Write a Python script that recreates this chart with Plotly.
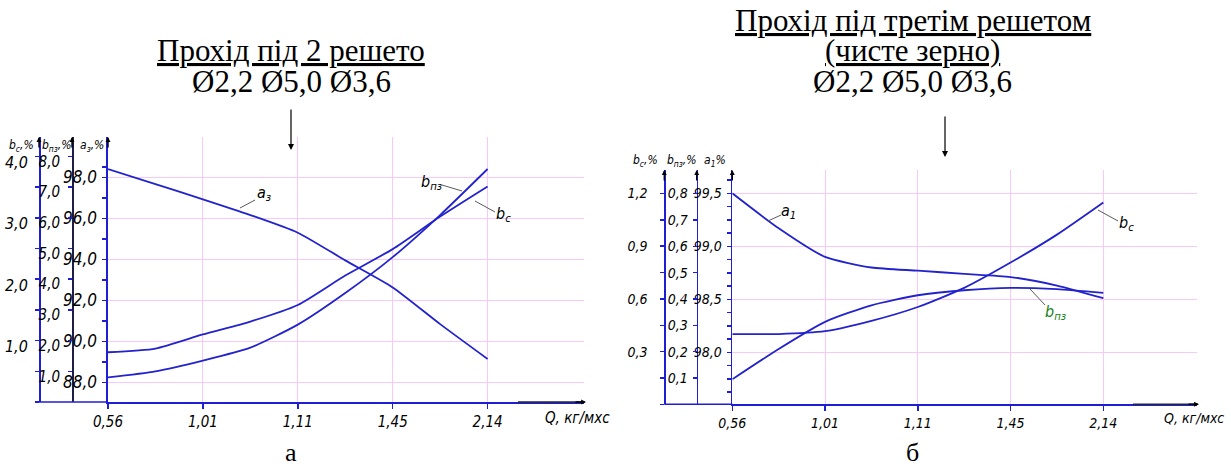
import plotly.graph_objects as go

W, H = 1231, 471

# ---------------- data ----------------
categories = ["0,56", "1,01", "1,11", "1,45", "2,14"]
cat_index = [0, 1, 2, 3, 4]
q_pos = [0, 0.5, 1, 1.5, 2, 2.5, 3, 3.5, 4]

# chart "а" (Прохід під 2 решето)
a3_left = [98.40, 97.67, 96.93, 96.16, 95.30, 93.95, 92.63, 90.84, 89.14]
bpz_left = [0.80, 1.00, 1.35, 1.77, 2.52, 3.55, 4.72, 6.09, 7.59]
bc_left = [0.81, 0.87, 1.10, 1.31, 1.58, 2.06, 2.49, 3.02, 3.51]

# chart "б" (Прохід під третім решетом)
a1_right = [99.50, 99.17, 98.90, 98.80, 98.77, 98.74, 98.71, 98.63, 98.51]
bpz_right = [0.095, 0.21, 0.313, 0.376, 0.414, 0.433, 0.442, 0.437, 0.423]
bc_right = [0.40, 0.40, 0.416, 0.475, 0.554, 0.663, 0.807, 0.966, 1.149]

a3_ticks = [88, 90, 92, 94, 96, 98]
bpz_left_ticks = [1, 2, 3, 4, 5, 6, 7, 8]
bc_left_ticks = [1, 2, 3, 4]
a1_ticks = [98.0, 98.5, 99.0, 99.5]
bpz_right_ticks = [0.1, 0.2, 0.3, 0.4, 0.5, 0.6, 0.7, 0.8]
bc_right_ticks = [0.3, 0.6, 0.9, 1.2]


def fmt(v, nd):
    return f"{v:.{nd}f}".replace(".", ",")


# ---------------- style ----------------
BLUE = "rgb(30,30,215)"
DARK = "rgb(30,30,70)"
PINK = "rgb(248,200,248)"
CURVE = "rgb(35,35,205)"
GOST = "Liberation Sans Narrow, DejaVu Sans Condensed, Liberation Sans, sans-serif"
SERIF = "Liberation Serif, Times New Roman, serif"


def px(x):
    return x / W


def py(y):
    return 1 - y / H


def tfont(size, color="black"):
    return dict(family=GOST, size=size, color=color, style="italic")


fig = go.Figure()

line = dict(color=CURVE, width=1.8, shape="spline", smoothing=0.6)
fig.add_trace(go.Scatter(x=q_pos, y=a3_left, mode="lines", line=line, xaxis="x", yaxis="y"))
fig.add_trace(go.Scatter(x=q_pos, y=bpz_left, mode="lines", line=line, xaxis="x", yaxis="y2"))
fig.add_trace(go.Scatter(x=q_pos, y=bc_left, mode="lines", line=line, xaxis="x", yaxis="y3"))
fig.add_trace(go.Scatter(x=q_pos, y=a1_right, mode="lines", line=line, xaxis="x2", yaxis="y4"))
fig.add_trace(go.Scatter(x=q_pos, y=bpz_right, mode="lines", line=line, xaxis="x2", yaxis="y5"))
fig.add_trace(go.Scatter(x=q_pos, y=bc_right, mode="lines", line=line, xaxis="x2", yaxis="y6"))

common_y = dict(showline=True, linecolor=BLUE, linewidth=1.6, ticks="outside", ticklen=4,
                tickcolor=BLUE, tickwidth=1.5, zeroline=False, fixedrange=True,
                automargin=False)
common_x = dict(showline=True, linecolor=BLUE, linewidth=1.6, ticks="outside", ticklen=5,
                tickcolor=BLUE, tickwidth=1.5, showgrid=True, gridcolor=PINK, gridwidth=1,
                zeroline=False, automargin=False, fixedrange=True)

L_BOT, L_TOP = 402, 137
R_BOT, R_TOP = 404.3, 170

fig.update_layout(
    width=W, height=H, margin=dict(l=0, r=0, t=0, b=0, autoexpand=False),
    paper_bgcolor="white", plot_bgcolor="white", showlegend=False,
    xaxis=dict(domain=[px(108), px(584)], anchor="y", range=[0, 5.016],
               tickvals=cat_index, ticktext=categories, tickfont=tfont(15), **common_x),
    yaxis=dict(domain=[py(L_BOT), py(L_TOP)], anchor="x", range=[87.04, 99.97],
               tickvals=a3_ticks, ticktext=[fmt(v, 1) for v in a3_ticks], tickfont=tfont(17),
               showgrid=True, gridcolor=PINK, gridwidth=1,
               minor=dict(tickvals=[89, 91, 93, 95, 97, 98.5], ticks="outside", ticklen=4,
                          tickcolor=BLUE, showgrid=False),
               ticklabelstandoff=2, **common_y),
    yaxis2=dict(overlaying="y", anchor="free", position=px(72), side="left", range=[0, 8.632],
                tickvals=bpz_left_ticks, ticktext=[fmt(v, 1) for v in bpz_left_ticks],
                tickfont=tfont(15), showgrid=False, ticklabelstandoff=5, ticklabelshift=5,
                **{**common_y, "linecolor": DARK}),
    yaxis3=dict(overlaying="y", anchor="free", position=px(39), side="left", range=[0, 4.316],
                tickvals=bc_left_ticks, ticktext=[fmt(v, 1) for v in bc_left_ticks],
                tickfont=tfont(16), showgrid=False, ticklabelstandoff=4, ticklabelshift=6,
                minor=dict(dtick=0.5, tick0=0, ticks="outside", ticklen=4, tickcolor=BLUE,
                           showgrid=False),
                **common_y),
    xaxis2=dict(domain=[px(732.3), px(1197)], anchor="y4", range=[0, 5.01],
                tickvals=cat_index, ticktext=categories, tickfont=tfont(14), **common_x),
    yaxis4=dict(domain=[py(R_BOT), py(R_TOP)], anchor="x2", range=[97.509, 99.72],
                tickvals=a1_ticks, ticktext=[fmt(v, 1) for v in a1_ticks], tickfont=tfont(14),
                showgrid=True, gridcolor=PINK, gridwidth=1,
                minor=dict(dtick=0.125, tick0=97.5, ticks="outside", ticklen=4, tickcolor=BLUE,
                           showgrid=False),
                ticklabelstandoff=2, **common_y),
    yaxis5=dict(overlaying="y4", anchor="free", position=px(696.7), side="left",
                range=[0, 0.8895], tickvals=bpz_right_ticks,
                ticktext=[fmt(v, 1) for v in bpz_right_ticks], tickfont=tfont(14),
                showgrid=False, ticklabelstandoff=2, **common_y),
    yaxis6=dict(overlaying="y4", anchor="free", position=px(664.3), side="left",
                range=[0, 1.334], tickvals=bc_right_ticks,
                ticktext=[fmt(v, 1) for v in bc_right_ticks], tickfont=tfont(14),
                showgrid=False, ticklabelstandoff=10,
                minor=dict(dtick=0.15, tick0=0, ticks="outside", ticklen=4, tickcolor=BLUE,
                           showgrid=False),
                **common_y),
)

shapes = []
# bottom axis segments joining the outer y axes, and dark arrow parts
shapes.append(dict(type="line", xref="paper", yref="paper", x0=px(39), x1=px(108),
                   y0=py(L_BOT), y1=py(L_BOT), line=dict(color=BLUE, width=1.6)))
shapes.append(dict(type="line", xref="paper", yref="paper", x0=px(518), x1=px(584),
                   y0=py(L_BOT), y1=py(L_BOT), line=dict(color="rgb(40,40,40)", width=1.6)))
shapes.append(dict(type="line", xref="paper", yref="paper", x0=px(664.3), x1=px(732.3),
                   y0=py(R_BOT), y1=py(R_BOT), line=dict(color=BLUE, width=1.6)))
shapes.append(dict(type="line", xref="paper", yref="paper", x0=px(1133), x1=px(1197),
                   y0=py(R_BOT), y1=py(R_BOT), line=dict(color="rgb(40,40,40)", width=1.6)))
# leader lines for curve labels
for (x0, y0, x1, y1) in [(240, 208, 255, 200), (442, 185, 462, 191), (475, 201, 495, 212),
                         (768, 221, 781, 215), (1098, 210, 1118, 221), (1030, 289, 1045, 305)]:
    shapes.append(dict(type="line", xref="paper", yref="paper", x0=px(x0), x1=px(x1),
                       y0=py(y0), y1=py(y1), line=dict(color="rgb(90,90,90)", width=1)))
fig.update_layout(shapes=shapes)

ann = []


def text(x, y, s, font, xanchor="center"):
    ann.append(dict(x=px(x), y=py(y), xref="paper", yref="paper", text=s, showarrow=False,
                    font=font, xanchor=xanchor, yanchor="middle"))


def arrow(x, y, ax, ay, size=1.0, width=1.2):
    ann.append(dict(x=px(x), y=py(y), xref="paper", yref="paper", text="", showarrow=True,
                    ax=ax, ay=ay, axref="pixel", ayref="pixel", arrowhead=2,
                    arrowsize=size, arrowwidth=width, arrowcolor="black"))


TITLE = dict(family=SERIF, size=31, color="black")
text(291, 51, "<u>Прохід під 2 решето</u>", TITLE)
text(291, 82, "Ø2,2 Ø5,0 Ø3,6", TITLE)
text(913, 21, "<u>Прохід під третім решетом</u>", TITLE)
text(913, 51, "<u>(чисте зерно)</u>", TITLE)
text(913, 82, "Ø2,2 Ø5,0 Ø3,6", TITLE)
arrow(291, 150, 0, -42)
arrow(945, 157, 0, -42)
text(291, 452, "а", dict(family=SERIF, size=26, color="black"))
text(912, 452, "б", dict(family=SERIF, size=26, color="black"))

# axis arrows
for x in (39, 72, 108):
    arrow(x, L_TOP, 0, 12, size=0.7, width=1.4)
for x in (664.3, 696.7, 732.3):
    arrow(x, R_TOP, 0, 12, size=0.7, width=1.4)
arrow(586, L_BOT, -12, 0, size=0.7, width=1.4)
arrow(1199, R_BOT, -12, 0, size=0.7, width=1.4)

# axis headers
text(21, 146, "b<sub>с</sub>,%", tfont(12))
text(56, 146, "b<sub>пз</sub>,%", tfont(12))
text(92, 146, "a<sub>з</sub>,%", tfont(12))
text(645, 161, "b<sub>с</sub>,%", tfont(12))
text(681, 161, "b<sub>пз</sub>,%", tfont(12))
text(715, 161, "a<sub>1</sub>%", tfont(12))

# x-axis names
text(577, 418, "Q, кг/мхс", tfont(15))
text(1194, 418, "Q, кг/мхс", tfont(14))

# curve labels
text(264, 193, "a<sub>з</sub>", tfont(16))
text(432, 182, "b<sub>пз</sub>", tfont(16))
text(503, 214, "b<sub>с</sub>", tfont(16))
text(789, 211, "a<sub>1</sub>", tfont(16))
text(1126, 223, "b<sub>с</sub>", tfont(16))
text(1055, 312, "b<sub>пз</sub>", tfont(16, "rgb(20,130,20)"))

fig.update_layout(annotations=ann)

fig.write_html("out.html", config={"displayModeBar": False, "staticPlot": True},
               post_script="document.body.style.margin='0';document.body.style.overflow='hidden';")
